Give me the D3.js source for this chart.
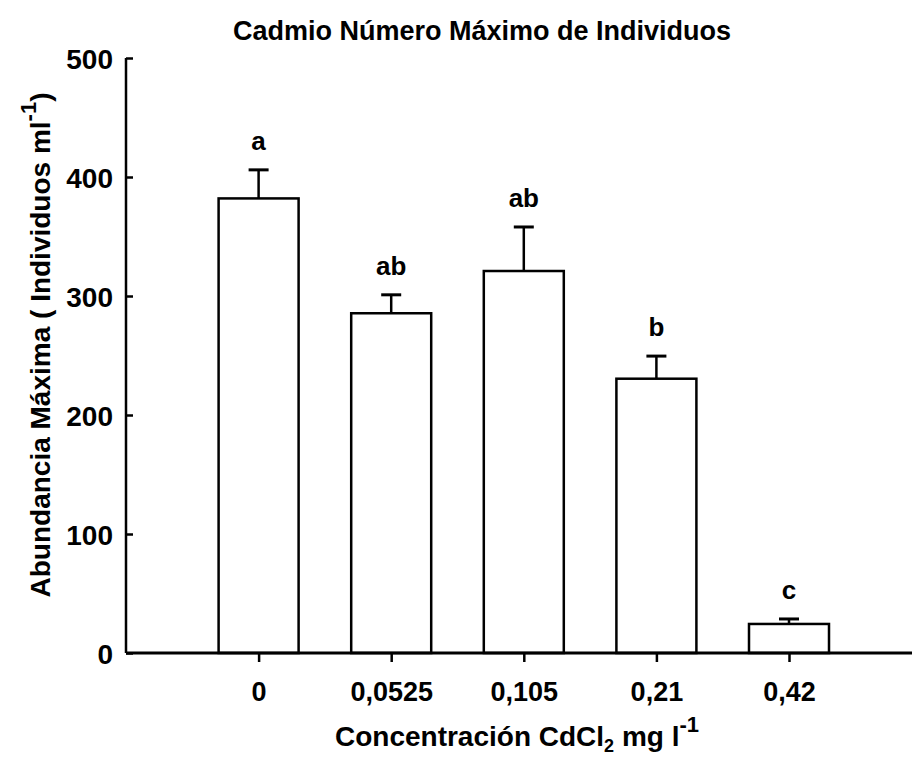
<!DOCTYPE html>
<html><head><meta charset="utf-8">
<script src="https://cdn.jsdelivr.net/npm/d3@7"></script>
<style>body{margin:0;background:#fff}svg{display:block}text{font-family:"Liberation Sans",Arial,sans-serif;font-weight:bold;fill:#000}</style>
</head><body>
<script>
const categories = ["0", "0,0525", "0,105", "0,21", "0,42"];
const means = [382, 285.5, 321, 230.5, 24.4];
const errors = [24, 15.5, 37, 19, 4.2];
const letters = ["a", "ab", "ab", "b", "c"];
const yTicks = [0, 100, 200, 300, 400, 500];

const W = 912, H = 759;
const FONT = "Liberation Sans, Arial, sans-serif";
const svg = d3.select("body").append("svg").attr("width", W).attr("height", H);

const x = d3.scaleLinear().domain([-1, 5]).range([126, 921.6]);
const y = d3.scaleLinear().domain([0, 500]).range([653, 58]);
const bw = 80;

// bars
const g = svg.append("g");
categories.forEach((c, i) => {
  const cx = x(i);
  const top = y(means[i] + errors[i]);
  g.append("rect").attr("x", cx - bw/2).attr("y", y(means[i])).attr("width", bw)
    .attr("height", y(0) - y(means[i])).attr("fill", "#fff").attr("stroke", "#000").attr("stroke-width", 2.5);
  g.append("line").attr("x1", cx).attr("x2", cx).attr("y1", y(means[i])).attr("y2", top)
    .attr("stroke", "#000").attr("stroke-width", 2.5);
  g.append("line").attr("x1", cx - 10).attr("x2", cx + 10).attr("y1", top).attr("y2", top)
    .attr("stroke", "#000").attr("stroke-width", 3);
  g.append("text").attr("x", cx).attr("y", top - 20).attr("text-anchor", "middle")
    .attr("font-size", 26).text(letters[i]);
});

// y axis
const yAxis = d3.axisLeft(y).tickValues(yTicks).tickSize(-7).tickPadding(13).tickFormat(d3.format("d"));
const ya = svg.append("g").attr("transform", "translate(126,0)").call(yAxis);
ya.select(".domain").attr("stroke-width", 2.5).attr("d", `M0,${y(500)}V${y(0)}`);
ya.selectAll(".tick line").attr("stroke-width", 2.5);
ya.selectAll(".tick text").attr("font-size", 28).attr("font-family", FONT).attr("font-weight", "bold").attr("dy", "0.36em");

// x axis
const xAxis = d3.axisBottom(x).tickValues(d3.range(categories.length)).tickFormat(i => categories[i]).tickSize(9).tickPadding(20);
const xa = svg.append("g").attr("transform", `translate(0,${y(0)})`).call(xAxis);
xa.select(".domain").attr("stroke-width", 3).attr("d", `M126,0H921`);
xa.selectAll(".tick line").attr("stroke-width", 2.5);
xa.selectAll(".tick text").attr("font-size", 27).attr("font-family", FONT).attr("font-weight", "bold");

// title
svg.append("text").attr("x", 482).attr("y", 40).attr("text-anchor", "middle").attr("font-size", 27)
  .text("Cadmio Número Máximo de Individuos");

// x title
const xt = svg.append("text").attr("x", 517).attr("y", 746).attr("text-anchor", "middle").attr("font-size", 28);
xt.append("tspan").text("Concentración CdCl");
xt.append("tspan").attr("font-size", 18).attr("dy", 6).text("2");
xt.append("tspan").attr("dy", -6).text(" mg l");
xt.append("tspan").attr("font-size", 22).attr("dy", -14).text("-1");

// y title
const yt = svg.append("text").attr("transform", "translate(50,345) rotate(-90)").attr("text-anchor", "middle").attr("font-size", 28);
yt.append("tspan").text("Abundancia Máxima ( Individuos ml");
yt.append("tspan").attr("font-size", 22).attr("dy", -14).text("-1");
yt.append("tspan").attr("dy", 14).text(")");
</script>
</body></html>
